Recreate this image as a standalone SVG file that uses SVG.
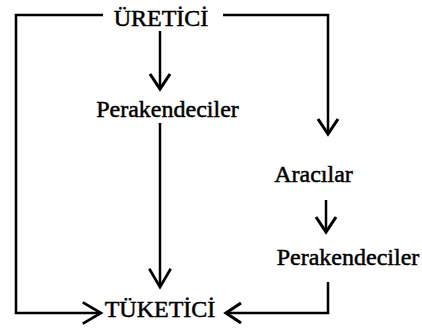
<svg xmlns="http://www.w3.org/2000/svg" width="422" height="334" viewBox="0 0 422 334">
  <defs>
    <style>
      text { font-family: 'Liberation Serif', 'DejaVu Serif', serif; font-size: 24px; fill: #000; stroke: #000; stroke-width: 0.5; text-anchor: middle; }
      .conn { fill: none; stroke: #000; stroke-width: 2.5; stroke-linejoin: miter; }
    </style>
    <marker id="arr" markerUnits="userSpaceOnUse" markerWidth="30" markerHeight="30" viewBox="-16 -12 20 24" refX="0" refY="0" orient="auto" overflow="visible">
      <path d="M-12,-8 L0,0 L-12,8" fill="none" stroke="#000" stroke-width="2.5"/>
    </marker>
    <marker id="arrlg" markerUnits="userSpaceOnUse" markerWidth="30" markerHeight="30" viewBox="-20 -14 24 28" refX="0" refY="0" orient="auto" overflow="visible">
      <path d="M-17,-10 L0,0 L-17,10" fill="none" stroke="#000" stroke-width="2.5"/>
    </marker>
  </defs>
  <rect width="422" height="334" fill="#fff"/>

  <g id="connectors">
    <path class="conn" d="M103,15 H16 V313 H101" marker-end="url(#arrlg)"/>
    <path class="conn" d="M223,15 H328 V134" marker-end="url(#arr)"/>
    <path class="conn" d="M160,31 V89" marker-end="url(#arr)"/>
    <path class="conn" d="M160,123 V287" marker-end="url(#arrlg)"/>
    <path class="conn" d="M326,200 V232" marker-end="url(#arr)"/>
    <path class="conn" d="M328,282 V313 H226" marker-end="url(#arr)"/>
  </g>

  <g id="uretici"><text x="161" y="26" font-family="Liberation Serif, serif">ÜRETİCİ</text></g>
  <g id="perakendeciler1"><text x="167.5" y="117" font-family="Liberation Serif, serif">Perakendeciler</text></g>
  <g id="aracilar"><text x="313.5" y="182" font-family="Liberation Serif, serif">Aracılar</text></g>
  <g id="perakendeciler2"><text x="348" y="265" font-family="Liberation Serif, serif">Perakendeciler</text></g>
  <g id="tuketici"><text x="160" y="317" font-family="Liberation Serif, serif">TÜKETİCİ</text></g>
</svg>
